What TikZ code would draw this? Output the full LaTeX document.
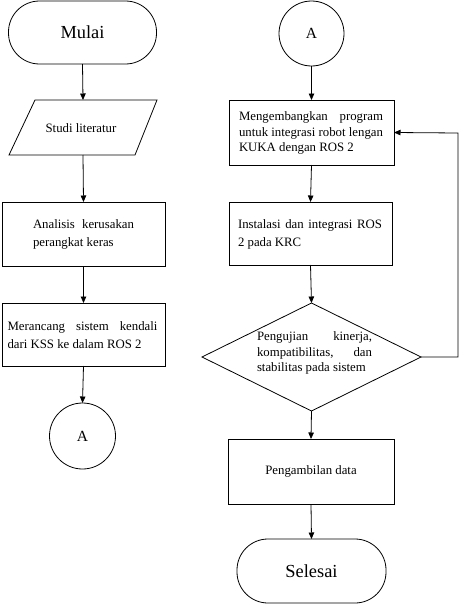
\documentclass[tikz,border=0pt]{standalone}
\usepackage{fontspec}
\setmainfont{Liberation Serif}
\usetikzlibrary{shapes.geometric,arrows.meta}
\begin{document}
\begin{tikzpicture}[x=1pt,y=-1pt,
  every node/.style={inner sep=0pt,outer sep=0pt},
  line/.style={line width=0.8pt,draw=black},
  arr/.style={line width=0.8pt,draw=black,-{Triangle[length=6.5pt,width=5.5pt]}},
  term/.style={line,rectangle,rounded corners=31pt,minimum width=148pt,minimum height=63pt,font=\fontsize{18.4}{22}\selectfont},
  proc/.style={line,rectangle,minimum width=164pt,minimum height=64pt},
  btext/.style={font=\fontsize{12.8}{15.7}\selectfont,align=justify},
  wtext/.style={font=\fontsize{12.8}{18}\selectfont,align=justify},
  conn/.style={line,circle,minimum size=66pt,font=\fontsize{15.5}{18}\selectfont},
  dec/.style={line,diamond,inner sep=1pt,minimum width=219pt,minimum height=108pt}
]
\useasboundingbox (0,0) rectangle (466,605);
% left column
\node[term] (mulai) at (82.5,32.5) {Mulai};
\node[minimum width=122pt,minimum height=55pt] (studi) at (83,127.5) {};
\coordinate (sTL) at (35,100);
\coordinate (sTR) at (157,100);
\coordinate (sBR) at (135,155);
\coordinate (sBL) at (9,155);
\draw[line] (sTL) -- (sTR) -- (sBR) -- (sBL) -- cycle;
\node[font=\fontsize{12.8}{15.7}\selectfont] (studit) at (81,128) {Studi literatur};
\node[proc,minimum width=163pt] (anal) at (83.5,234) {};
\node[wtext,text width=101pt] (analt) at (83.5,234) {Analisis kerusakan\linebreak perangkat keras};
\node[proc,minimum width=163pt,minimum height=63pt] (mer) at (83.5,334.5) {};
\node[wtext,text width=150pt] (mert) at (82.5,335) {Merancang sistem kendali\linebreak dari KSS ke dalam ROS 2};
\node[conn] (aL) at (82.5,436) {A};
% right column
\node[conn,minimum size=65pt] (aR) at (311.5,33.5) {A};
\node[proc,minimum width=165pt,minimum height=65pt] (meng) at (311.5,132.5) {};
\node[btext,text width=144pt] (mengt) at (311,133) {Mengembangkan program\linebreak untuk integrasi robot lengan\linebreak KUKA dengan ROS 2};
\node[proc,minimum width=163pt,minimum height=63pt] (inst) at (310.5,233.5) {};
\node[wtext,text width=144pt] (instt) at (310,234) {Instalasi dan integrasi ROS\linebreak 2 pada KRC};
\node[dec] (uji) at (311.5,357) {};
\node[btext,text width=115pt] (ujit) at (314.5,353) {Pengujian kinerja,\linebreak kompatibilitas, dan\linebreak stabilitas pada sistem};
\node[proc,minimum width=166pt,minimum height=65pt] (peng) at (311,471.5) {};
\node[font=\fontsize{12.8}{15.7}\selectfont] (pengt) at (311,471) {Pengambilan data};
\node[term,minimum width=149pt,minimum height=64pt] (sel) at (311.5,571) {Selesai};
\coordinate (fb) at (458,133);
% connectors
\draw[arr] (mulai.south) -- (studi.north);
\draw[arr] (studi.south) -- (anal.north);
\draw[arr] (anal.south) -- (mer.north);
\draw[arr] (mer.south) -- (aL.north);
\draw[arr] (aR.south) -- (meng.north);
\draw[arr] (meng.south) -- (inst.north);
\draw[arr] (inst.south) -- (uji.north);
\draw[arr] (uji.south) -- (peng.north);
\draw[arr] (peng.south) -- (sel.north);
\draw[arr] (uji.east) -| (fb) -- (meng.east);
\end{tikzpicture}
\end{document}
